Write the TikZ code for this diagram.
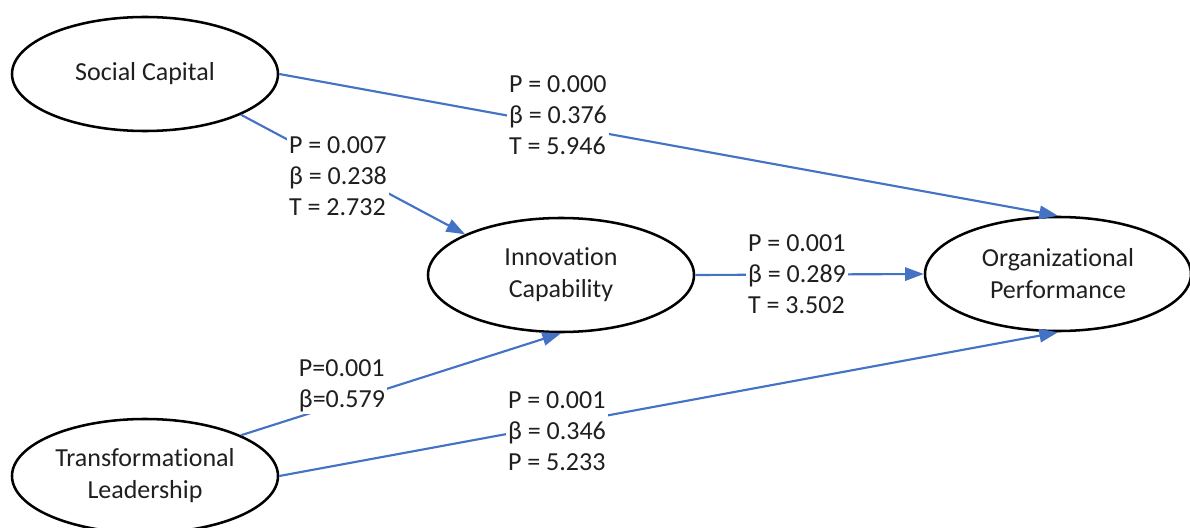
\documentclass[tikz,border=0pt]{standalone}
\usepackage{fontspec}
\setmainfont{Carlito}[Ligatures={NoCommon,NoRare}]
\usetikzlibrary{arrows.meta,shapes.geometric}
\definecolor{linkblue}{HTML}{4472C4}
\definecolor{txt}{HTML}{1F1F1F}
\begin{document}
\begin{tikzpicture}[x=0.75pt,y=-0.75pt,
  latent/.style={ellipse, draw=black, line width=1.9pt, minimum width=199.5pt,
    minimum height=85.5pt, inner sep=0pt, align=center, text=txt,
    font=\fontsize{19.5}{24}\selectfont},
  link/.style={draw=linkblue, line width=1.6pt, -{Triangle[length=14pt,width=10pt]}},
  est/.style={fill=white, align=left, inner sep=1.5pt, text=txt,
    font=\fontsize{19.5}{23.4}\selectfont}]
\useasboundingbox (0,0) rectangle (1190,528);
\node[latent] (sc) at (145,74) {Social Capital};
\node[latent] (ic) at (561,275) {Innovation\\Capability};
\node[latent] (op) at (1058,274) {Organizational\\Performance};
\node[latent] (tl) at (145,476) {Transformational\\Leadership};
\draw[link] (sc.east) -- (op.north);
\draw[link] (sc.-23) -- (ic.157);
\draw[link] (ic.east) -- (op.west);
\draw[link] (tl.23) -- (ic.south);
\draw[link] (tl.east) -- (op.south);
\node[est] (l1) at (558,115) {P = 0.000\\β = 0.376\\T = 5.946};
\node[est] (l2) at (338,176) {P = 0.007\\β = 0.238\\T = 2.732};
\node[est] (l3) at (797,274) {P = 0.001\\β = 0.289\\T = 3.502};
\node[est] (l4) at (342,386) {P=0.001\\β=0.579};
\node[est] (l5) at (557,431) {P = 0.001\\β = 0.346\\P = 5.233};
\end{tikzpicture}
\end{document}
